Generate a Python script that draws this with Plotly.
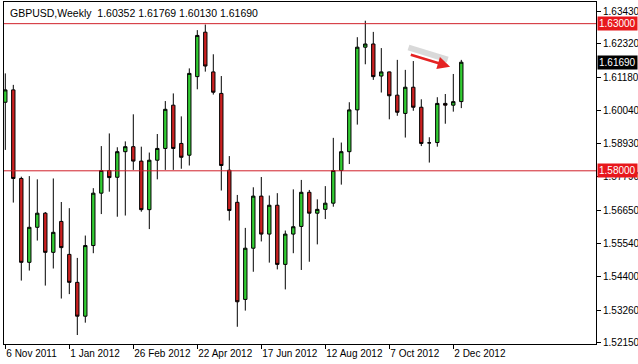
import pandas as pd
import plotly.graph_objects as go

# ---- data ----
dates = pd.date_range("2011-11-06", periods=58, freq="7D")
opens = [1.6033, 1.6075, 1.5774, 1.5489, 1.5608, 1.5656, 1.5523, 1.5628, 1.5516, 1.5421,
         1.5306, 1.5546, 1.5724, 1.5801, 1.5778, 1.5865, 1.5882, 1.5833, 1.5668, 1.5836,
         1.5876, 1.6023, 1.5893, 1.5853, 1.6120, 1.6271, 1.6136, 1.6063, 1.5802, 1.5693,
         1.5363, 1.5537, 1.5714, 1.5585, 1.5683, 1.5482, 1.5585, 1.5611, 1.5727, 1.5656,
         1.5669, 1.5690, 1.5801, 1.5865, 1.6007, 1.6220, 1.6231, 1.6122, 1.6136, 1.6057,
         1.5995, 1.6084, 1.6016, 1.5895, 1.5896, 1.6029, 1.6023, 1.60352]
highs = [1.6131, 1.6092, 1.5780, 1.5782, 1.5771, 1.5660, 1.5774, 1.5694, 1.5673, 1.5504,
         1.5580, 1.5741, 1.5884, 1.5927, 1.5880, 1.5900, 1.5992, 1.5882, 1.5862, 1.5925,
         1.6037, 1.6063, 1.5985, 1.6148, 1.6278, 1.6297, 1.6196, 1.6122, 1.5850, 1.5718,
         1.5606, 1.5744, 1.5779, 1.5716, 1.5724, 1.5597, 1.5737, 1.5769, 1.5735, 1.5703,
         1.5748, 1.5912, 1.5896, 1.6033, 1.6254, 1.6310, 1.6272, 1.6217, 1.6137, 1.6177,
         1.6143, 1.6173, 1.6043, 1.5914, 1.6050, 1.6061, 1.6129, 1.61769]
lows = [1.5871, 1.5692, 1.5427, 1.5461, 1.5563, 1.5410, 1.5468, 1.5366, 1.5381, 1.5242,
        1.5284, 1.5520, 1.5653, 1.5729, 1.5644, 1.5648, 1.5803, 1.5661, 1.5602, 1.5771,
        1.5803, 1.5803, 1.5807, 1.5818, 1.6077, 1.6137, 1.6059, 1.5733, 1.5631, 1.5270,
        1.5325, 1.5457, 1.5560, 1.5488, 1.5465, 1.5397, 1.5520, 1.5463, 1.5491, 1.5550,
        1.5636, 1.5678, 1.5753, 1.5823, 1.5957, 1.6162, 1.6109, 1.6066, 1.5975, 1.5987,
        1.5913, 1.6004, 1.5884, 1.5828, 1.5882, 1.5960, 1.6001, 1.60130]
closes = [1.6075, 1.5774, 1.5489, 1.5608, 1.5656, 1.5523, 1.5591, 1.5539, 1.5421, 1.5306,
          1.5546, 1.5724, 1.5801, 1.5777, 1.5865, 1.5882, 1.5833, 1.5668, 1.5836, 1.5876,
          1.6009, 1.5876, 1.5846, 1.6131, 1.6260, 1.6156, 1.6067, 1.5818, 1.5665, 1.5355,
          1.5537, 1.5714, 1.5585, 1.5683, 1.5482, 1.5585, 1.5610, 1.5727, 1.5656, 1.5669,
          1.5690, 1.5801, 1.5865, 1.6007, 1.6220, 1.6231, 1.6120, 1.6136, 1.6055, 1.5999,
          1.6084, 1.6016, 1.5893, 1.5895, 1.6029, 1.6023, 1.6035, 1.61690]

x_tick_dates = ["2011-11-06", "2012-01-01", "2012-02-26", "2012-04-22",
                "2012-06-17", "2012-08-12", "2012-10-07", "2012-12-02"]
x_tick_labels = ["6 Nov 2011", "1 Jan 2012", "26 Feb 2012", "22 Apr 2012",
                 "17 Jun 2012", "12 Aug 2012", "7 Oct 2012", "2 Dec 2012"]
y_ticks = [1.63430, 1.62320, 1.61180, 1.60040, 1.58930, 1.57790,
           1.56650, 1.55540, 1.54400, 1.53260, 1.52150]
levels = [1.63000, 1.58000]
header = "GBPUSD,Weekly  1.60352 1.61769 1.60130 1.61690"

GREEN = "#32CD32"
RED = "#CC2020"
FONT = "Liberation Sans"

fig = go.Figure()
fig.add_trace(go.Candlestick(
    x=dates, open=opens, high=highs, low=lows, close=closes,
    increasing=dict(fillcolor=GREEN, line=dict(color="black", width=1)),
    decreasing=dict(fillcolor=RED, line=dict(color="black", width=1)),
    whiskerwidth=0, hoverinfo="skip", showlegend=False,
))

# horizontal levels
for lv in levels:
    fig.add_shape(type="line", xref="paper", x0=0, x1=1, yref="y", y0=lv, y1=lv,
                  line=dict(color="#D0202A", width=1), layer="above")
    fig.add_annotation(x=1, xref="paper", y=lv, yref="y", xanchor="left",
                       text=f"{lv:.5f}", showarrow=False, bgcolor="#E8171C",
                       font=dict(color="white", size=10, family=FONT),
                       borderpad=1, xshift=1)

# current price label
fig.add_annotation(x=1, xref="paper", y=closes[-1], yref="y", xanchor="left",
                   text=f"{closes[-1]:.5f}", showarrow=False, bgcolor="black",
                   font=dict(color="white", size=10, family=FONT),
                   borderpad=1, xshift=1)

# header
fig.add_annotation(x=0.007, xref="paper", y=0.968, yref="paper", xanchor="left",
                   yanchor="middle", text=header, showarrow=False,
                   font=dict(color="black", size=10.5, family=FONT))

# drawn arrow (with its shadow)
t0 = dates[0]
tail_x = t0 + pd.Timedelta(weeks=50.5)
head_x = t0 + pd.Timedelta(weeks=55.6)
fig.add_shape(type="line", xref="x", yref="y",
              x0=t0 + pd.Timedelta(weeks=50.4), y0=1.6219,
              x1=t0 + pd.Timedelta(weeks=55.3), y1=1.6178,
              line=dict(color="rgba(170,170,170,0.45)", width=6))
fig.add_annotation(x=head_x, y=1.6154, ax=tail_x, ay=1.6196, xref="x", yref="y",
                   axref="x", ayref="y", showarrow=True, arrowhead=2,
                   arrowsize=1, arrowwidth=2.5, arrowcolor="#E52222", text="")

x0 = dates[0] - pd.Timedelta(days=1.14)
x1 = x0 + pd.Timedelta(days=518)

fig.update_layout(
    width=638, height=364,
    margin=dict(l=4, r=42, t=2, b=20, autoexpand=False),
    paper_bgcolor="white", plot_bgcolor="white",
    boxgap=0.4,
    font=dict(family=FONT, size=10, color="black"),
    xaxis=dict(type="date", range=[x0, x1], rangeslider=dict(visible=False),
               showgrid=False, zeroline=False, showline=True, mirror=True,
               linecolor="black", linewidth=1, automargin=False,
               tickvals=x_tick_dates, ticktext=x_tick_labels, tickangle=0,
               ticks="outside", ticklen=4, tickcolor="black",
               ticklabelposition="outside right",
               tickfont=dict(size=10, family=FONT)),
    yaxis=dict(side="right", range=[1.52115, 1.63736], showgrid=False,
               zeroline=False, showline=True, mirror=True, automargin=False,
               linecolor="black", linewidth=1,
               tickvals=y_ticks, ticktext=[f"{v:.5f}" for v in y_ticks],
               ticks="outside", ticklen=4, tickcolor="black",
               tickfont=dict(size=10, family=FONT)),
)

fig.write_html("out.html")
